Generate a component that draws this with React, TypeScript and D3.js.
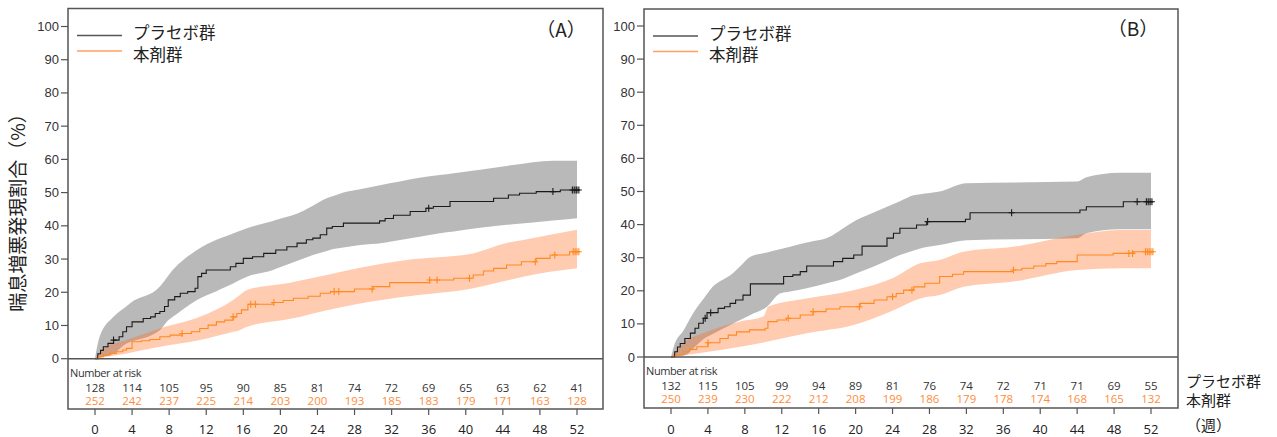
import React, { useRef, useEffect } from 'react';
import * as d3 from 'd3';

// x ticks (weeks) and y ticks (%)
const weekTicks = [0, 4, 8, 12, 16, 20, 24, 28, 32, 36, 40, 44, 48, 52];
const pctTicks = [0, 10, 20, 30, 40, 50, 60, 70, 80, 90, 100];
const groupNames = ['プラセボ群', '本剤群'];

// number at risk
const riskPlaceboA = [128, 114, 105, 95, 90, 85, 81, 74, 72, 69, 65, 63, 62, 41];
const riskDrugA = [252, 242, 237, 225, 214, 203, 200, 193, 185, 183, 179, 171, 163, 128];
const riskPlaceboB = [132, 115, 105, 99, 94, 89, 81, 76, 74, 72, 71, 71, 69, 55];
const riskDrugB = [250, 239, 230, 222, 212, 208, 199, 186, 179, 178, 174, 168, 165, 132];

// (A) placebo KM steps
const placeboA_t = [0, 0.3, 0.6, 0.9, 1.4, 2.0, 2.6, 3.0, 3.4, 4.0, 5.2, 6.0, 6.5, 7.0, 7.5, 7.9, 8.6, 9.2, 10.0, 10.8, 11.1, 11.5, 12.0, 14.6, 15.2, 16.0, 17.0, 18.2, 19.5, 20.7, 21.8, 22.8, 23.5, 24.3, 25.0, 25.6, 26.8, 30.7, 31.3, 32.2, 34.0, 35.7, 36.5, 38.3, 43.0, 44.6, 45.8, 47.6, 50.2];
const placeboA_v = [0, 1.5, 2.5, 3.6, 4.6, 5.6, 6.6, 8.1, 9.6, 11.1, 12.1, 12.6, 13.6, 14.2, 15.7, 17.7, 18.7, 19.7, 20.2, 21.2, 24.7, 25.7, 26.7, 27.7, 28.7, 30.2, 30.7, 31.7, 32.7, 33.7, 34.8, 35.8, 36.3, 37.3, 39.3, 39.8, 40.8, 41.5, 42.2, 43.2, 44.3, 45.3, 45.8, 47.3, 48.3, 49.3, 49.8, 50.3, 50.8];
const placeboA_censor = [2.0, 36.0, 49.4, 51.5, 51.7, 51.9, 52.0, 52.2];
const placeboA_hi_t = [0, 0.5, 2.0, 3.8, 7.0, 8.1, 11.0, 13.1, 16.4, 19.6, 22.5, 25.0, 26.8, 31.8, 35.0, 38.7, 45.1, 49.4, 52];
const placeboA_hi_v = [0, 6.6, 12.6, 16.7, 21.7, 25.7, 32.7, 35.8, 39.3, 41.8, 44.5, 48.3, 50.0, 52.8, 54.5, 55.8, 58.3, 59.6, 59.6];
const placeboA_lo_t = [0, 2.0, 3.4, 7.0, 7.9, 11.0, 14.2, 16.4, 19.2, 23.5, 25.7, 28.6, 31.0, 37.2, 44.4, 52];
const placeboA_lo_v = [0, 1.5, 4.6, 8.6, 11.6, 17.7, 21.7, 24.7, 26.7, 31.2, 33.0, 34.2, 34.8, 37.8, 40.3, 42.3];

// (A) drug KM steps
const drugA_t = [0, 0.4, 0.9, 1.6, 2.3, 3.0, 3.4, 4.0, 5.0, 5.9, 7.0, 8.1, 9.4, 10.4, 11.3, 12.2, 13.1, 14.0, 14.9, 15.3, 15.8, 16.5, 19.2, 20.3, 21.4, 23.0, 24.3, 25.4, 28.0, 30.0, 31.8, 36.1, 38.7, 40.8, 41.9, 43.0, 44.4, 46.0, 47.6, 49.1, 51.2];
const drugA_v = [0, 0.6, 1.1, 1.6, 2.1, 2.6, 3.1, 5.1, 5.4, 5.8, 6.6, 7.1, 7.6, 8.1, 9.1, 10.1, 11.1, 11.6, 12.6, 13.6, 14.7, 16.4, 16.9, 17.5, 18.2, 18.8, 19.7, 20.2, 21.0, 21.7, 22.9, 23.7, 24.2, 25.2, 26.4, 27.2, 28.2, 29.2, 30.2, 31.2, 32.2];
const drugA_censor = [9.4, 14.9, 16.8, 17.3, 19.3, 25.8, 26.3, 29.9, 36.1, 36.9, 40.4, 47.5, 49.6, 51.6, 51.8, 52.0, 52.2];
const drugA_hi_t = [0, 0.9, 3.4, 7.0, 11.3, 14.9, 16.4, 20.7, 25.0, 28.6, 33.6, 40.8, 44.4, 52];
const drugA_hi_v = [0, 3.1, 5.6, 9.1, 12.6, 17.7, 20.7, 22.7, 25.2, 27.4, 29.7, 31.7, 34.8, 38.8];
const drugA_lo_t = [0, 3.4, 7.0, 11.3, 15.6, 16.4, 21.4, 25.0, 28.6, 33.6, 40.8, 46.2, 52];
const drugA_lo_v = [0, 1.6, 3.6, 5.6, 8.6, 9.6, 12.2, 14.6, 16.6, 18.7, 21.2, 24.7, 27.2];

// (B) placebo KM steps
const placeboB_t = [0, 0.4, 0.7, 1.0, 1.5, 2.1, 2.6, 3.0, 3.5, 3.9, 5.1, 5.8, 6.4, 7.0, 7.8, 8.6, 12.2, 13.2, 14.0, 14.7, 17.6, 18.6, 19.8, 20.7, 23.4, 24.1, 24.8, 26.6, 27.7, 31.9, 32.4, 44.3, 45.0, 49.0];
const placeboB_v = [0, 1.6, 3.0, 4.1, 5.6, 7.2, 8.7, 10.2, 11.7, 13.4, 14.7, 15.2, 16.2, 17.2, 18.7, 22.1, 24.3, 24.8, 25.8, 27.5, 28.8, 29.8, 30.8, 33.5, 35.9, 37.4, 38.9, 39.9, 40.9, 41.6, 43.6, 44.4, 45.4, 46.9];
const placeboB_censor = [3.7, 4.3, 27.8, 36.9, 50.5, 51.5, 51.7, 51.9, 52.1];
const placeboB_hi_t = [0, 0.3, 1.4, 2.4, 4.2, 6.7, 8.6, 12.9, 17.2, 20.1, 23.4, 26.3, 29.1, 32.0, 44.0, 45.0, 48.6, 52];
const placeboB_hi_v = [0, 3.1, 8.2, 13.2, 20.2, 25.3, 30.3, 33.3, 36.3, 41.4, 45.4, 48.9, 50.0, 52.5, 53.0, 54.3, 55.7, 55.7];
const placeboB_lo_t = [0, 1.5, 3.9, 7.5, 10.4, 11.8, 14.7, 18.3, 21.9, 24.8, 27.0, 29.1, 32.0, 44.0, 45.0, 48.6, 52];
const placeboB_lo_v = [0, 0.5, 6.1, 11.2, 15.2, 19.2, 20.8, 23.3, 27.3, 30.8, 32.8, 33.8, 35.3, 35.9, 37.4, 38.6, 38.6];

// (B) drug KM steps
const drugB_t = [0, 0.5, 1.3, 2.0, 2.8, 4.0, 5.3, 6.2, 7.1, 8.5, 10.2, 10.5, 11.5, 12.5, 14.0, 15.4, 16.8, 18.3, 20.5, 22.0, 23.4, 24.4, 25.2, 26.3, 27.5, 29.1, 30.5, 31.7, 37.1, 38.0, 39.3, 40.6, 41.8, 44.0, 47.9, 50.1];
const drugB_v = [0, 0.6, 1.6, 2.3, 3.1, 4.3, 5.6, 6.6, 7.6, 8.2, 8.7, 10.7, 11.2, 11.7, 12.7, 13.7, 14.5, 15.2, 16.2, 17.2, 18.2, 19.2, 20.2, 21.2, 22.3, 24.3, 25.0, 25.8, 26.3, 26.8, 27.5, 28.2, 28.8, 30.8, 31.3, 31.8];
const drugB_censor = [4.0, 12.7, 15.4, 20.4, 24.0, 26.1, 37.1, 49.6, 50.0, 51.4, 51.6, 51.8, 52.0, 52.2];
const drugB_hi_t = [0, 1.3, 3.9, 7.5, 10.0, 10.5, 14.7, 19.8, 24.0, 27.0, 29.1, 31.7, 37.1, 44.0, 48.6, 52];
const drugB_hi_v = [0, 4.1, 7.6, 10.7, 12.2, 15.2, 17.7, 20.2, 23.8, 28.3, 29.3, 31.8, 33.3, 36.9, 38.4, 38.4];
const drugB_lo_t = [0, 3.9, 7.5, 10.4, 14.7, 19.8, 24.0, 27.0, 29.1, 31.7, 37.1, 44.0, 48.6, 52];
const drugB_lo_v = [0, 1.5, 3.1, 4.6, 7.2, 9.7, 14.0, 17.7, 18.7, 21.2, 22.8, 26.3, 26.8, 26.8];

const zip = (t: number[], v: number[]) => t.map((d, i) => [d, v[i]] as [number, number]);

const panels = [
  {
    label: '（A）', left: 68, right: 603, top: 8.5, zero: 358.7, y100: 26.5, bottom: 409, x0: 95, x52: 577,
    labelX: 561, labelY: 37,
    placebo: { t: placeboA_t, v: placeboA_v, censor: placeboA_censor, hi: zip(placeboA_hi_t, placeboA_hi_v), lo: zip(placeboA_lo_t, placeboA_lo_v), risk: riskPlaceboA },
    drug: { t: drugA_t, v: drugA_v, censor: drugA_censor, hi: zip(drugA_hi_t, drugA_hi_v), lo: zip(drugA_lo_t, drugA_lo_v), risk: riskDrugA },
  },
  {
    label: '（B）', left: 644, right: 1178, top: 9, zero: 357, y100: 26, bottom: 408, x0: 671, x52: 1151,
    labelX: 1133, labelY: 36,
    placebo: { t: placeboB_t, v: placeboB_v, censor: placeboB_censor, hi: zip(placeboB_hi_t, placeboB_hi_v), lo: zip(placeboB_lo_t, placeboB_lo_v), risk: riskPlaceboB },
    drug: { t: drugB_t, v: drugB_v, censor: drugB_censor, hi: zip(drugB_hi_t, drugB_hi_v), lo: zip(drugB_lo_t, drugB_lo_v), risk: riskDrugB },
  },
];

const COL = {
  frame: '#555',
  placebo: '#1a1a1a',
  drug: '#ff8a1f',
  drugText: '#ff8c3a',
  grayBand: '#808080',
  orangeBand: '#ff6a20',
};

const SANS = '"Open Sans", "Noto Sans", sans-serif';
const ARIAL = '"Liberation Sans", Arial, sans-serif';
const CJK = '"Noto Sans CJK JP", sans-serif';

const App = () => {
  const ref = useRef<SVGSVGElement>(null);

  useEffect(() => {
    const svg = d3.select(ref.current);
    svg.selectAll('*').remove();

    panels.forEach((p) => {
      const g = svg.append('g');
      const x = d3.scaleLinear().domain([0, 52]).range([p.x0, p.x52]);
      const y = d3.scaleLinear().domain([0, 100]).range([p.zero, p.y100]);

      // confidence band: upper/lower edges resampled on a shared set of times
      const drawBand = (hi: [number, number][], lo: [number, number][], color: string, op: number) => {
        const hiFn = d3.scaleLinear().domain(hi.map((d) => d[0])).range(hi.map((d) => d[1]));
        const loFn = d3.scaleLinear().domain(lo.map((d) => d[0])).range(lo.map((d) => d[1]));
        const times = Array.from(new Set([...hi.map((d) => d[0]), ...lo.map((d) => d[0])])).sort((a, b) => a - b);
        const pts = times.map((t) => [t, hiFn(t), loFn(t)] as [number, number, number]);
        g.append('path')
          .attr('d', d3.area<[number, number, number]>()
            .x((d) => x(d[0]))
            .y0((d) => y(d[2]))
            .y1((d) => y(d[1]))
            .curve(d3.curveMonotoneX)(pts))
          .attr('fill', color)
          .attr('fill-opacity', op);
      };

      drawBand(p.placebo.hi, p.placebo.lo, COL.grayBand, 0.55);
      drawBand(p.drug.hi, p.drug.lo, COL.orangeBand, 0.35);

      const stepAt = (s: { t: number[]; v: number[] }, c: number) => {
        const i = d3.bisectRight(s.t, c) - 1;
        return s.v[Math.max(0, i)];
      };

      const drawSeries = (s: { t: number[]; v: number[]; censor: number[] }, color: string) => {
        const pts = zip(s.t, s.v);
        pts.push([52.25, s.v[s.v.length - 1]]);
        g.append('path')
          .attr('d', d3.line<[number, number]>().x((d) => x(d[0])).y((d) => y(d[1])).curve(d3.curveStepAfter)(pts))
          .attr('fill', 'none')
          .attr('stroke', color)
          .attr('stroke-width', 1.1);
        s.censor.forEach((c) => {
          const cx = x(c), cy = y(stepAt(s, c));
          g.append('path')
            .attr('d', `M${cx - 3},${cy}H${cx + 3}M${cx},${cy - 3.5}V${cy + 3.5}`)
            .attr('stroke', color)
            .attr('stroke-width', 1.1);
        });
      };
      drawSeries(p.placebo, COL.placebo);
      drawSeries(p.drug, COL.drug);

      // frame
      g.append('rect')
        .attr('x', p.left).attr('y', p.top)
        .attr('width', p.right - p.left).attr('height', p.bottom - p.top)
        .attr('fill', 'none').attr('stroke', COL.frame).attr('stroke-width', 1.5);
      g.append('line')
        .attr('x1', p.left).attr('x2', p.right)
        .attr('y1', p.zero).attr('y2', p.zero)
        .attr('stroke', COL.frame).attr('stroke-width', 1.5);

      // y ticks
      pctTicks.forEach((v) => {
        g.append('line')
          .attr('x1', p.left - 7).attr('x2', p.left)
          .attr('y1', y(v)).attr('y2', y(v))
          .attr('stroke', COL.frame).attr('stroke-width', 1.2);
        g.append('text')
          .attr('x', p.left - 9).attr('y', y(v) + 4.5)
          .attr('text-anchor', 'end')
          .attr('font-family', ARIAL).attr('font-size', 13)
          .attr('fill', '#333')
          .text(v);
      });

      // x ticks below risk table
      weekTicks.forEach((w) => {
        g.append('line')
          .attr('x1', x(w)).attr('x2', x(w))
          .attr('y1', p.bottom).attr('y2', p.bottom + 6)
          .attr('stroke', COL.frame).attr('stroke-width', 1.2);
        g.append('text')
          .attr('x', x(w)).attr('y', 434)
          .attr('text-anchor', 'middle')
          .attr('font-family', SANS).attr('font-size', 13)
          .attr('fill', '#222')
          .text(w);
      });

      // number at risk
      g.append('text')
        .attr('x', p.left + 2).attr('y', p.zero + 18)
        .attr('font-family', SANS).attr('font-size', 11).attr('letter-spacing', -0.4)
        .attr('fill', '#333')
        .text('Number at risk');
      weekTicks.forEach((w, i) => {
        g.append('text')
          .attr('x', x(w)).attr('y', p.zero + 33)
          .attr('text-anchor', 'middle')
          .attr('font-family', SANS).attr('font-size', 11.5)
          .attr('fill', '#333')
          .text(p.placebo.risk[i]);
        g.append('text')
          .attr('x', x(w)).attr('y', p.zero + 46)
          .attr('text-anchor', 'middle')
          .attr('font-family', SANS).attr('font-size', 11.5)
          .attr('fill', COL.drugText)
          .text(p.drug.risk[i]);
      });

      // legend
      const lx = p.left + 9;
      [0, 1].forEach((k) => {
        const ly = p.top + 27 + k * 15.5;
        g.append('line')
          .attr('x1', lx).attr('x2', lx + 45)
          .attr('y1', ly).attr('y2', ly)
          .attr('stroke', k === 0 ? '#555' : '#ffa060').attr('stroke-width', 1.5);
        g.append('text')
          .attr('x', lx + 56).attr('y', p.top + 30.5 + k * 21.5)
          .attr('font-family', CJK).attr('font-size', 16.5)
          .attr('fill', '#222')
          .text(groupNames[k]);
      });

      g.append('text')
        .attr('x', p.labelX).attr('y', p.labelY)
        .attr('text-anchor', 'middle')
        .attr('font-family', CJK).attr('font-size', 19)
        .attr('fill', '#222')
        .text(p.label);
    });

    // y-axis title
    svg.append('text')
      .attr('transform', 'translate(25,208) rotate(-90)')
      .attr('text-anchor', 'middle')
      .attr('font-family', CJK).attr('font-size', 19)
      .attr('fill', '#222')
      .text('喘息増悪発現割合（%）');

    // right-hand row labels
    [['プラセボ群', 387], ['本剤群', 406], ['（週）', 431]].forEach(([t, yy]) => {
      svg.append('text')
        .attr('x', 1186).attr('y', yy as number)
        .attr('font-family', CJK).attr('font-size', 15)
        .attr('fill', '#222')
        .text(t as string);
    });
  }, []);

  return (
    <svg
      ref={ref}
      width={1277}
      height={437}
      style={{ position: 'absolute', left: 0, top: 0, background: '#fff' }}
    />
  );
};

export default App;
